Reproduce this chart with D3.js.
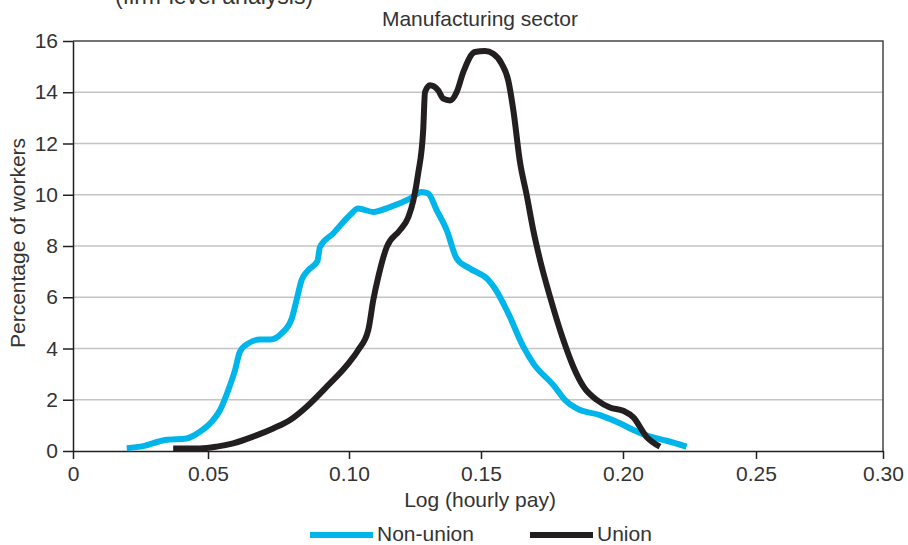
<!DOCTYPE html>
<html>
<head>
<meta charset="utf-8">
<script src="https://cdn.jsdelivr.net/npm/d3@7"></script>
<style>
    body { margin: 0; background: #fff; }
    text { font-family: "Liberation Sans", Arial, sans-serif; fill: #333; }
</style>
</head>
<body>
<svg id="chart"></svg>
<script>
// data
const seriesNames = ['Non-union', 'Union'];
const xTicks = [0, 0.05, 0.10, 0.15, 0.20, 0.25, 0.30];
const yTicks = [0, 2, 4, 6, 8, 10, 12, 14, 16];

const nonUnion = [
    [0.0199, 0.11], [0.0260, 0.19], [0.0341, 0.43], [0.0421, 0.49], [0.0470, 0.75],
    [0.0513, 1.14], [0.0543, 1.60], [0.0572, 2.38], [0.0596, 3.16], [0.0613, 3.87],
    [0.0643, 4.20], [0.0684, 4.35], [0.0720, 4.35], [0.0761, 4.59], [0.0797, 5.17],
    [0.0814, 5.89], [0.0832, 6.67], [0.0856, 7.06], [0.0888, 7.41], [0.0897, 7.96],
    [0.0944, 8.49], [0.1003, 9.20], [0.1035, 9.46], [0.1092, 9.33], [0.1155, 9.52],
    [0.1231, 9.85], [0.1275, 10.11], [0.1300, 10.05], [0.1332, 9.40], [0.1370, 8.62],
    [0.1408, 7.51], [0.1458, 7.12], [0.1526, 6.67], [0.1549, 6.34], [0.1596, 5.37],
    [0.1649, 4.07], [0.1684, 3.42], [0.1755, 2.57], [0.1796, 1.99], [0.1837, 1.66],
    [0.1919, 1.40], [0.1989, 1.08], [0.2039, 0.82], [0.2102, 0.56], [0.2164, 0.40],
    [0.2239, 0.17]
];

const union = [
    [0.0371, 0.10], [0.0470, 0.10], [0.0531, 0.17], [0.0589, 0.30], [0.0660, 0.56],
    [0.0731, 0.88], [0.0791, 1.21], [0.0850, 1.73], [0.0921, 2.51], [0.0998, 3.42],
    [0.1035, 3.94], [0.1073, 4.72], [0.1092, 5.89], [0.1111, 6.80], [0.1143, 7.96],
    [0.1193, 8.62], [0.1225, 9.13], [0.1244, 9.79], [0.1262, 10.83], [0.1281, 12.51],
    [0.1288, 14.01], [0.1307, 14.27], [0.1338, 14.07], [0.1357, 13.75], [0.1383, 13.68],
    [0.1408, 14.01], [0.1433, 14.79], [0.1477, 15.57], [0.1514, 15.61], [0.1543, 15.50],
    [0.1573, 15.11], [0.1596, 14.46], [0.1614, 13.29], [0.1637, 11.30], [0.1661, 9.98],
    [0.1684, 8.62], [0.1708, 7.45], [0.1743, 6.02], [0.1790, 4.33], [0.1825, 3.29],
    [0.1861, 2.51], [0.1908, 1.99], [0.1954, 1.70], [0.2001, 1.57], [0.2039, 1.31],
    [0.2088, 0.56], [0.2139, 0.17]
];

class LineChart {

    constructor(config, series) {
        this.config = {
            parent: config.parent,
            width: config.width || 908,
            height: config.height || 545,
            fontSize: config.fontSize || '21px',
            colors: config.colors
        };
        this.series = series;
        this.init();
    }

    init() {
        let self = this;

        self.svg = d3.select(self.config.parent)
            .attr('width', self.config.width)
            .attr('height', self.config.height);

        // the reference axis has slightly uneven tick spacing
        self.xscale = d3.scaleLinear()
            .domain(xTicks)
            .range([73, 208, 349, 481, 623, 756, 883]);

        self.yscale = d3.scaleLinear()
            .domain([0, 16])
            .range([451, 41]);

        self.render();
    }

    render() {
        let self = this;
        const fs = self.config.fontSize;
        const x0 = self.xscale(0), x1 = self.xscale(0.30);
        const y0 = self.yscale(0), y1 = self.yscale(16);

        // heading that is cut off at the very top in the reference
        self.svg.append('text')
            .attr('x', 115)
            .attr('y', 4)
            .style('font-size', '23px')
            .text('(firm-level analysis)');

        self.svg.append('text')
            .attr('x', 480)
            .attr('y', 26)
            .attr('text-anchor', 'middle')
            .style('font-size', fs)
            .text('Manufacturing sector');

        // gridlines
        self.svg.append('g')
            .selectAll('line')
            .data(yTicks.filter(d => d > 0 && d < 16))
            .join('line')
            .attr('x1', x0).attr('x2', x1)
            .attr('y1', d => self.yscale(d)).attr('y2', d => self.yscale(d))
            .attr('stroke', '#c4c4c4')
            .attr('stroke-width', 1.5);

        // frame top / right
        self.svg.append('path')
            .attr('d', `M${x0},${y1}H${x1}V${y0}`)
            .attr('fill', 'none')
            .attr('stroke', '#444')
            .attr('stroke-width', 1.5);

        const yaxis = d3.axisLeft(self.yscale)
            .tickValues(yTicks)
            .tickSize(10)
            .tickPadding(5)
            .tickSizeOuter(0);

        const yg = self.svg.append('g')
            .attr('transform', `translate(${x0},0)`)
            .call(yaxis);
        yg.select('.domain').attr('stroke', '#231f20').attr('stroke-width', 1.5);
        yg.selectAll('.tick line').attr('stroke', '#231f20').attr('stroke-width', 1.5);
        yg.selectAll('.tick text')
            .style('font-size', fs)
            .style('font-family', '"Liberation Sans", Arial, sans-serif')
            .attr('fill', '#333');

        const xaxis = d3.axisBottom(self.xscale)
            .tickValues(xTicks)
            .tickFormat(d => d === 0 ? '0' : d3.format('.2f')(d))
            .tickSize(8)
            .tickPadding(7)
            .tickSizeOuter(0);

        const xg = self.svg.append('g')
            .attr('transform', `translate(0,${y0})`)
            .call(xaxis);
        xg.select('.domain').attr('stroke', '#231f20').attr('stroke-width', 1.5);
        xg.selectAll('.tick line').attr('stroke', '#231f20').attr('stroke-width', 1.5);
        xg.selectAll('.tick text')
            .style('font-size', fs)
            .style('font-family', '"Liberation Sans", Arial, sans-serif')
            .attr('fill', '#333');

        self.svg.append('text')
            .attr('x', 480)
            .attr('y', 507)
            .attr('text-anchor', 'middle')
            .style('font-size', fs)
            .text('Log (hourly pay)');

        self.svg.append('text')
            .attr('transform', 'rotate(-90)')
            .attr('x', -243)
            .attr('y', 25)
            .attr('text-anchor', 'middle')
            .style('font-size', fs)
            .text('Percentage of workers');

        const line = d3.line()
            .x(d => self.xscale(d[0]))
            .y(d => self.yscale(d[1]))
            .curve(d3.curveMonotoneX);

        self.svg.append('g')
            .selectAll('path')
            .data(self.series)
            .join('path')
            .attr('d', d => line(d))
            .attr('fill', 'none')
            .attr('stroke', (d, i) => self.config.colors[i])
            .attr('stroke-width', 6)
            .attr('stroke-linejoin', 'round');

        // legend
        const legend = self.svg.append('g')
            .selectAll('g')
            .data(seriesNames)
            .join('g')
            .attr('transform', (d, i) => `translate(${310 + i * 220},535)`);

        legend.append('line')
            .attr('x1', 0).attr('x2', 63)
            .attr('stroke', (d, i) => self.config.colors[i])
            .attr('stroke-width', 6);

        legend.append('text')
            .attr('x', 67)
            .attr('y', 6)
            .style('font-size', fs)
            .text(d => d);
    }
}

const chart = new LineChart({
    parent: '#chart',
    colors: ['#00b5ea', '#231f20']
}, [nonUnion, union]);
</script>
</body>
</html>
